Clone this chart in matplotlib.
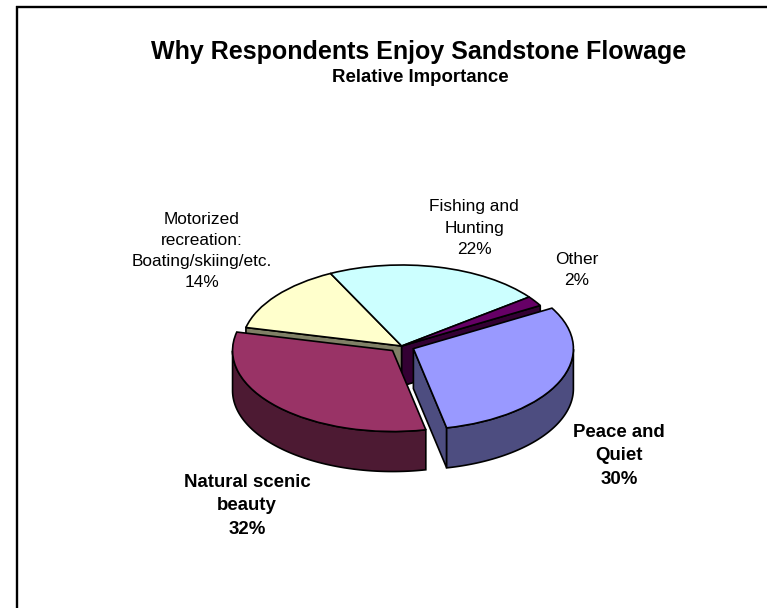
import numpy as np
import matplotlib
matplotlib.use('Agg')
import matplotlib.pyplot as plt

plt.rcParams['font.family'] = ['Liberation Sans', 'DejaVu Sans']

W, H = 767, 608

# clockwise from the right, same order as the picture
categories = ['Peace and\nQuiet', 'Natural scenic\nbeauty', 'Motorized\nrecreation:\nBoating/skiing/etc.',
              'Fishing and\nHunting', 'Other']
values = [30, 32, 14, 22, 2]
explode = [0.08, 0.08, 0, 0, 0]
top_colors = ['#9999FF', '#993366', '#FFFFCC', '#CCFFFF', '#660066']
side_colors = ['#4D4D80', '#4D1A33', '#808066', '#668080', '#330033']

# label centre in pixels, bold or not
label_pos = [(619, 456), (247, 506), (202, 251), (474, 228), (577, 270)]
label_bold = [True, True, False, False, False]

# pie geometry in pixels
cx, cy = 401.7, 346
rx, ry = 160, 81
depth = 40 / ry


def px(x, y):
    return x / W, 1 - y / H


def side_polys(wedge):
    # visible parts of the 3d wall under one slice
    x0, y0 = wedge.center
    a, b = wedge.theta1, wedge.theta2
    polys = []
    # cut faces, only the ones turned to the viewer
    for ang, nrm in ((a, a - 90), (b, b + 90)):
        if np.sin(np.radians(nrm)) < 0:
            ex = x0 + np.cos(np.radians(ang))
            ey = y0 + np.sin(np.radians(ang))
            polys.append(([x0, ex, ex, x0], [y0, ey, ey - depth, y0 - depth]))
    # outer wall, only the part on the front half
    t = np.radians(np.linspace(a, b, 200))
    t = t[np.sin(t) <= 0]
    if len(t) > 1:
        xs = x0 + np.cos(t)
        ys = y0 + np.sin(t)
        polys.append((np.r_[xs, xs[::-1]], np.r_[ys, ys[::-1] - depth]))
    return polys


fig = plt.figure(figsize=(W / 100, H / 100), dpi=100, facecolor='white')
ax = fig.add_axes([0, 0, 1, 1])

wedges, _ = ax.pie(values, explode=explode, colors=top_colors, startangle=30, counterclock=False,
                   radius=1, wedgeprops={'edgecolor': 'black', 'linewidth': 1.2})
ax.set_aspect('auto')
ax.set_xlim(-cx / rx, (W - cx) / rx)
ax.set_ylim(-(H - cy) / ry, cy / ry)
ax.axis('off')


def back_first(i):
    return -np.sin(np.radians((wedges[i].theta1 + wedges[i].theta2) / 2))


# slices that stay put go first, the pulled out ones on top of them
fixed = sorted([i for i in range(len(values)) if explode[i] == 0], key=back_first)
moved = sorted([i for i in range(len(values)) if explode[i] > 0], key=back_first)

for i in fixed:
    for xs, ys in side_polys(wedges[i]):
        ax.fill(xs, ys, facecolor=side_colors[i], edgecolor='black', linewidth=1.2, zorder=2)
    wedges[i].set_zorder(3)

z = 4
for i in moved:
    for xs, ys in side_polys(wedges[i]):
        ax.fill(xs, ys, facecolor=side_colors[i], edgecolor='black', linewidth=1.2, zorder=z)
    wedges[i].set_zorder(z + 1)
    z += 2

for name, val, (lx, ly), bold in zip(categories, values, label_pos, label_bold):
    fig.text(*px(lx, ly), f'{name}\n{val}%', ha='center', va='center',
             fontsize=13.4 if bold else 12.4,
             fontweight='bold' if bold else 'normal', linespacing=1.5, color='black')

fig.text(*px(419, 52), 'Why Respondents Enjoy Sandstone Flowage', ha='center', va='center',
         fontsize=18, fontweight='bold')
fig.text(*px(420, 78), 'Relative Importance', ha='center', va='center', fontsize=13.4, fontweight='bold')

# border of the chart area, only left and top are inside the picture
fig.add_artist(plt.Line2D([17 / W, 17 / W], [0, 1 - 6 / H], color='black', lw=1.7, solid_capstyle='butt'))
fig.add_artist(plt.Line2D([16 / W, 1], [1 - 7 / H, 1 - 7 / H], color='black', lw=1.7, solid_capstyle='butt'))

fig.savefig('out.png', dpi=100)
